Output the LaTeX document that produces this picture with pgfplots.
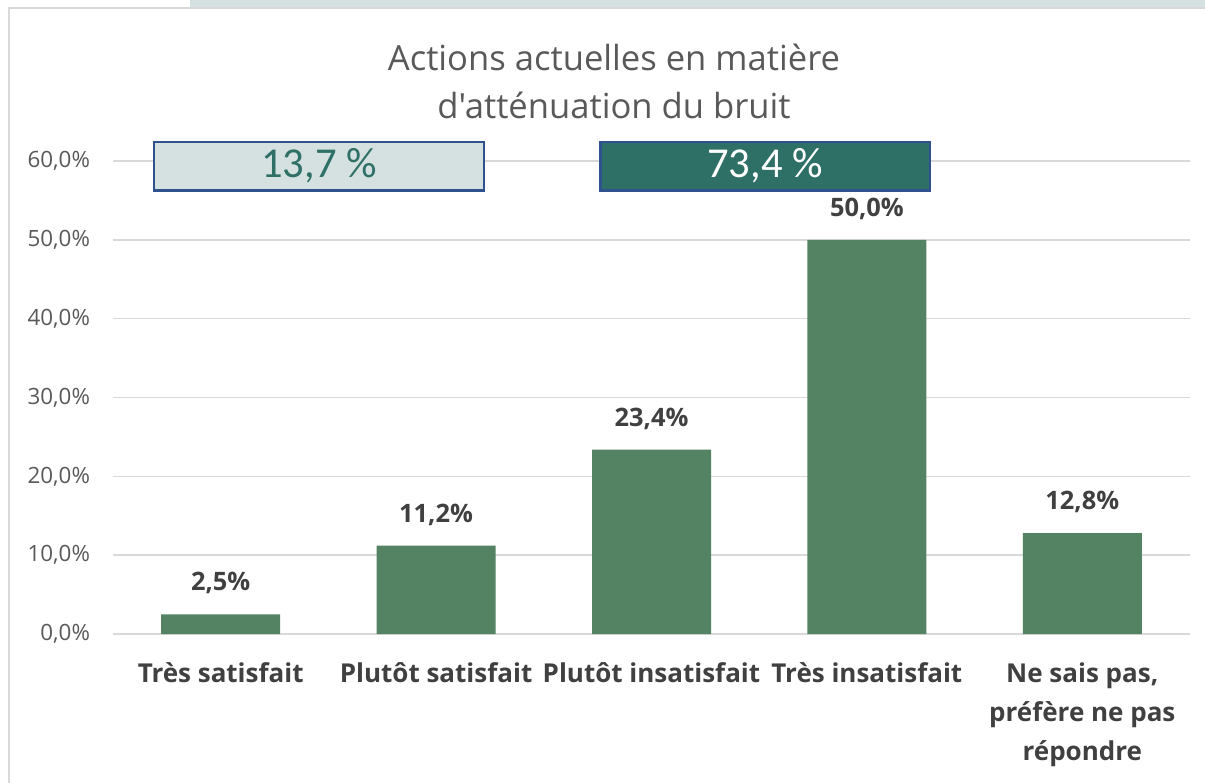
\documentclass[border=0pt]{standalone}
\usepackage{pgfplots}
\pgfplotsset{compat=1.18}
\usepackage{fontspec}
\setmainfont{Open Sans}
\newfontfamily\titlefont{Open Sans}[Ligatures=TeXOff]
\newfontfamily\carlito{Carlito}
\definecolor{barc}{RGB}{83,131,99}
\definecolor{gridc}{RGB}{217,217,217}
\definecolor{tickc}{RGB}{89,89,89}
\definecolor{labc}{RGB}{64,64,64}
\definecolor{boxa}{RGB}{213,224,224}
\definecolor{boxb}{RGB}{46,112,102}
\definecolor{bord}{RGB}{47,82,143}
\begin{document}
\begin{tikzpicture}
\path[use as bounding box] (0,0) rectangle (602.5pt,391.5pt);
\fill[boxa] (95pt,391.5pt) rectangle (602.5pt,388pt);
\draw[gridc, line width=1.2pt] (4.5pt,0) -- (4.5pt,387.5pt) -- (602.5pt,387.5pt);
\node[align=center, text=tickc, font=\titlefont\fontsize{17.3}{24}\selectfont] at (307pt,351pt) {Actions actuelles en matière\\d'atténuation du bruit};
\begin{axis}[
  at={(56.5pt,74.5pt)}, anchor=south west,
  scale only axis, width=538.5pt, height=236.5pt,
  xmin=-0.5, xmax=4.5, ymin=0, ymax=60,
  clip=false,
  axis line style={draw=none},
  major tick length=0pt,
  ytick={0,10,...,60},
  ymajorgrids, grid style={gridc, line width=0.8pt},
  yticklabel={\pgfmathprintnumber[fixed,fixed zerofill,precision=1,use comma]{\tick}\%},
  yticklabel style={anchor=east, xshift=-8pt, text=tickc, font=\fontsize{11.2}{13}\selectfont},
  /pgf/number format/assume math mode=true,
  xtick={0,1,2,3,4},
  xticklabels={Très satisfait, Plutôt satisfait, Plutôt insatisfait, Très insatisfait, {Ne sais pas,\\préfère ne pas\\répondre}},
  xticklabel style={align=center, anchor=north, yshift=-11pt, text=labc, font=\bfseries\fontsize{13}{19.4}\selectfont},
  nodes near coords={\pgfmathprintnumber[fixed,fixed zerofill,precision=1,use comma]{\pgfplotspointmeta}\%},
  nodes near coords style={anchor=south, yshift=6.5pt, text=labc, font=\bfseries\fontsize{12.7}{14}\selectfont},
]
\addplot[ybar, bar width=59.5pt, fill=barc, draw=none] coordinates {(0,2.5) (1,11.2) (2,23.4) (3,50.0) (4,12.8)};
\draw[draw=bord, line width=1.4pt, fill=boxa] (axis cs:-0.31,56.3) rectangle (axis cs:1.222,62.4);
\node[text=boxb, font=\carlito\fontsize{21.3}{21}\selectfont] at (axis cs:0.456,59.35) {13,7 \%};
\draw[draw=bord, line width=1.4pt, fill=boxb] (axis cs:1.762,56.3) rectangle (axis cs:3.293,62.4);
\node[text=white, font=\carlito\fontsize{21.3}{21}\selectfont] at (axis cs:2.5275,59.35) {73,4 \%};
\end{axis}
\end{tikzpicture}
\end{document}
